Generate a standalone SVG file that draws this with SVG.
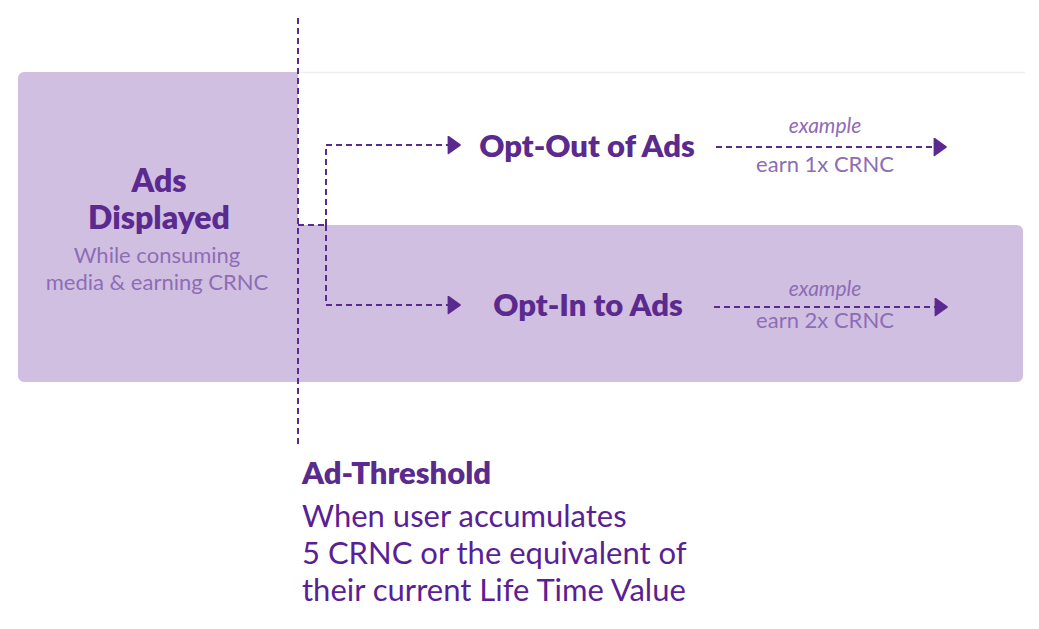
<svg xmlns="http://www.w3.org/2000/svg" width="1039" height="629" viewBox="0 0 1039 629">
<defs>
<style>
.bg{fill:#d1bfe2}
.t{font-family:Lato,"Liberation Sans",sans-serif}
.h{font-weight:800;fill:#5b2a8e}
.sub{fill:#8d6db5}
.dash{fill:none;stroke:#5b2a8e;stroke-width:2;stroke-dasharray:6 4}
.note{fill:#5a1f95}
</style>
<marker id="ah" viewBox="0 0 13 18" refX="12" refY="9" markerWidth="14" markerHeight="19" markerUnits="userSpaceOnUse" orient="auto">
<path d="M1,1 L12,9 L1,17 z" fill="#5b2a8e" stroke="#5b2a8e" stroke-width="1.5" stroke-linejoin="round"/>
</marker>
</defs>
<rect width="1039" height="629" fill="#ffffff"/>
<line x1="298" y1="72.5" x2="1025" y2="72.5" stroke="#eeeeee" stroke-width="1.5"/>
<g id="ads-displayed">
<path class="bg" d="M24,72 H298 V225 H1017 a6,6 0 0 1 6,6 V376 a6,6 0 0 1 -6,6 H24 a6,6 0 0 1 -6,-6 V78 a6,6 0 0 1 6,-6 z"/>
<text class="t h" x="159" y="192" text-anchor="middle" font-size="32">Ads</text>
<text class="t h" x="159" y="229" text-anchor="middle" font-size="32">Displayed</text>
<text class="t sub" x="157" y="263" text-anchor="middle" font-size="22">While consuming</text>
<text class="t sub" x="157" y="290" text-anchor="middle" font-size="22">media &amp; earning CRNC</text>
</g>
<g id="connectors">
<line class="dash" x1="298" y1="18" x2="298" y2="448"/>
<path class="dash" d="M298,225 H326"/>
<path class="dash" d="M326,225 V145 H460" marker-end="url(#ah)"/>
<path class="dash" d="M326,225 V305 H460" marker-end="url(#ah)"/>
<line class="dash" x1="716" y1="147" x2="946" y2="147" marker-end="url(#ah)"/>
<line class="dash" x1="714" y1="307" x2="947" y2="307" marker-end="url(#ah)"/>
<text class="t sub" x="825" y="133" text-anchor="middle" font-size="21" font-style="italic">example</text>
<text class="t sub" x="825" y="172" text-anchor="middle" font-size="22">earn 1x CRNC</text>
<text class="t sub" x="825" y="296" text-anchor="middle" font-size="21" font-style="italic">example</text>
<text class="t sub" x="825" y="328" text-anchor="middle" font-size="22">earn 2x CRNC</text>
</g>
<g id="opt-out">
<text class="t h" x="587" y="157" text-anchor="middle" font-size="31">Opt-Out of Ads</text>
</g>
<g id="opt-in">
<text class="t h" x="588" y="316" text-anchor="middle" font-size="31">Opt-In to Ads</text>
</g>
<g id="ad-threshold">
<text class="t h" x="302" y="484" font-size="31">Ad-Threshold</text>
<text class="t note" x="302" y="527" font-size="31">When user accumulates</text>
<text class="t note" x="302" y="564" font-size="31">5 CRNC or the equivalent of</text>
<text class="t note" x="302" y="601" font-size="31">their current Life Time Value</text>
</g>
</svg>
